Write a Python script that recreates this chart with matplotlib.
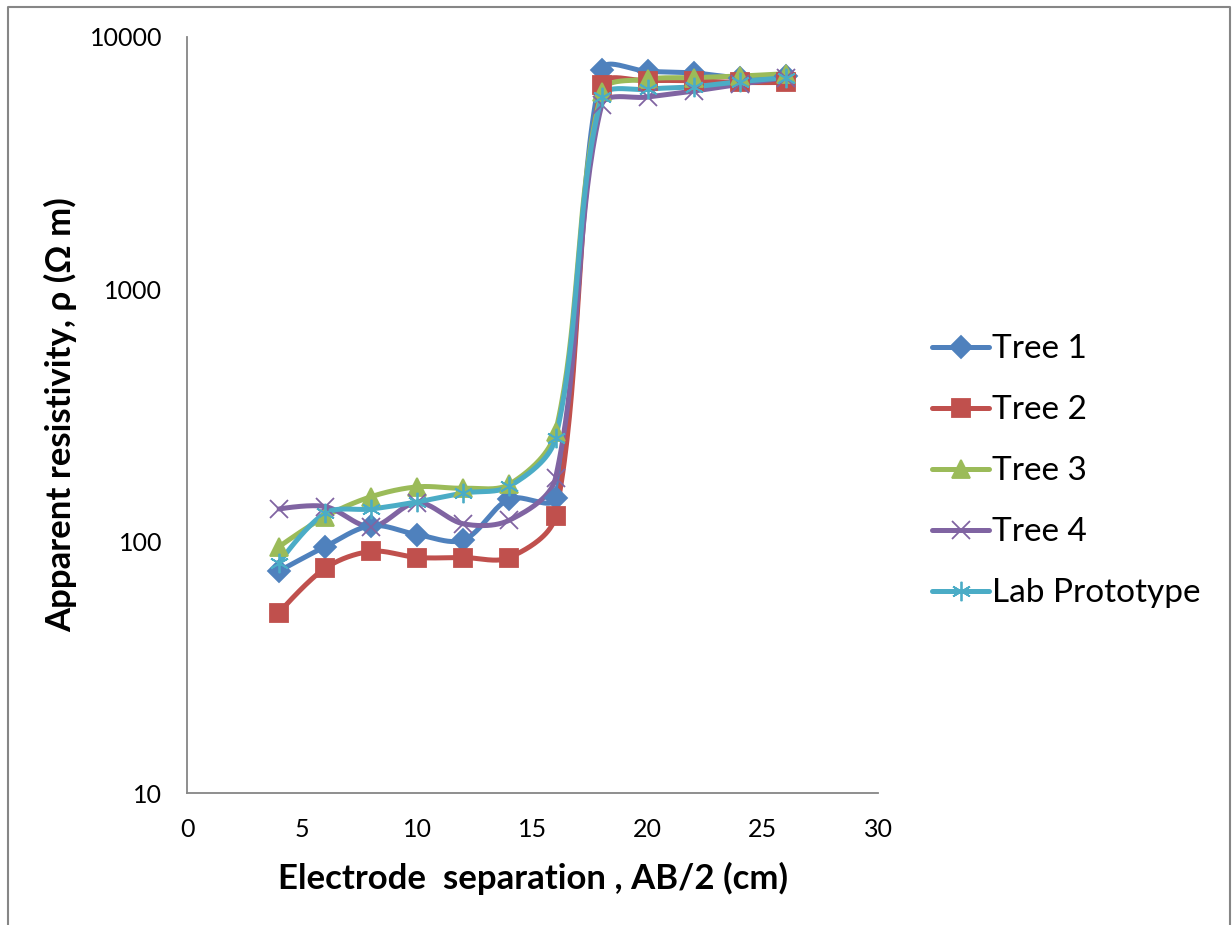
import numpy as np
import matplotlib.pyplot as plt
from matplotlib.lines import Line2D

plt.rcParams['font.family'] = ['Lato', 'DejaVu Sans']

# electrode separation AB/2 (cm)
ab2 = [4, 6, 8, 10, 12, 14, 16, 18, 20, 22, 24, 26]

# apparent resistivity (ohm m)
tree1 = [76, 95, 115, 106, 101, 147, 148, 7400, 7300, 7200, 6900, 7000]
tree2 = [52, 78, 91, 86, 86, 86, 126, 6450, 6700, 6700, 6600, 6600]
tree3 = [95, 125, 150, 164, 162, 168, 271, 6050, 6800, 6900, 7000, 7150]
tree4 = [134, 137, 114, 142, 117, 121, 178, 5370, 5780, 6100, 6500, 6900]
lab = [82, 129, 134, 143, 155, 165, 256, 5780, 6200, 6350, 6650, 6900]

names = ['Tree 1', 'Tree 2', 'Tree 3', 'Tree 4', 'Lab Prototype']
series = [tree1, tree2, tree3, tree4, lab]
colors = ['#4F81BD', '#C0504D', '#9BBB59', '#8064A2', '#4BACC6']
markers = ['D', 's', '^', 'x', (6, 2, 0)]
msizes = [11, 13, 13, 13, 14]

# rough pixel scale of the axes, used so the smoothing behaves like Excel
PX_X, PX_Y = 23.0, 252.0


def smooth(x, y, n=40):
    """Excel-like smoothed line: bezier with tangents scaled by segment length"""
    px = np.asarray(x, float) * PX_X
    py = np.log10(np.asarray(y, float)) * PX_Y
    P = np.column_stack([px, py])
    k = len(P)
    tang = np.zeros_like(P)
    for i in range(k):
        a = P[max(i - 1, 0)]
        b = P[min(i + 1, k - 1)]
        tang[i] = b - a
    out = []
    t = np.linspace(0, 1, n)[:, None]
    for i in range(k - 1):
        p0, p3 = P[i], P[i + 1]
        d = np.linalg.norm(p3 - p0)
        dprev = np.linalg.norm(p0 - P[i - 1]) if i > 0 else d
        dnext = np.linalg.norm(P[i + 2] - p3) if i + 2 < k else d
        c1 = p0 + tang[i] * d / (dprev + d) / 3 if i > 0 else p0
        c2 = p3 - tang[i + 1] * d / (d + dnext) / 3 if i + 2 < k else p3
        seg = (1 - t) ** 3 * p0 + 3 * (1 - t) ** 2 * t * c1 \
            + 3 * (1 - t) * t ** 2 * c2 + t ** 3 * p3
        out.append(seg)
    out = np.vstack(out)
    return out[:, 0] / PX_X, 10 ** (out[:, 1] / PX_Y)


fig = plt.figure(figsize=(12.32, 9.25), dpi=100)
ax = fig.add_axes([0.1518, 0.1427, 0.5609, 0.8173])

handles = []
for name, vals, c, m, ms in zip(names, series, colors, markers, msizes):
    sx, sy = smooth(ab2, vals)
    ax.plot(sx, sy, color=c, lw=3.6, solid_capstyle='round', zorder=2)
    ax.plot(ab2, vals, ls='none', marker=m, ms=ms, color=c, mec=c,
            mew=1.3, zorder=3)
    handles.append(Line2D([], [], color=c, lw=3.6, marker=m, ms=ms, mec=c,
                          mew=1.3, solid_capstyle='round'))

ax.set_yscale('log')
ax.set_ylim(10, 10000)
ax.set_xlim(0, 30)
ax.set_xticks([0, 5, 10, 15, 20, 25, 30])
ax.set_yticks([10, 100, 1000, 10000])
ax.set_yticklabels(['10', '100', '1000', '10000'])
ax.minorticks_off()
ax.tick_params(length=0, labelsize=18)
ax.tick_params(axis='x', pad=18)
ax.tick_params(axis='y', pad=18)
for s in ['top', 'right']:
    ax.spines[s].set_visible(False)
for s in ['left', 'bottom']:
    ax.spines[s].set_color('#868686')
    ax.spines[s].set_linewidth(1.3)

ax.set_xlabel('Electrode  separation , AB/2 (cm)', fontsize=25,
              fontweight='bold', labelpad=15)
ax.set_ylabel('Apparent resistivity, ρ (Ω m)', fontsize=25,
              fontweight='bold', labelpad=9)

fig.legend(handles, names, loc='upper left', bbox_to_anchor=(0.746, 0.653),
           frameon=False, fontsize=24, handlelength=1.7, handletextpad=0.1,
           labelspacing=0.93, borderaxespad=0)

# outer chart frame
fig.add_artist(Line2D([0.0065, 0.0065, 0.9985, 0.9985],
                      [0.0, 0.9925, 0.9925, 0.0],
                      transform=fig.transFigure, color='#868686', lw=1.5))

fig.savefig('out.png', dpi=100)
